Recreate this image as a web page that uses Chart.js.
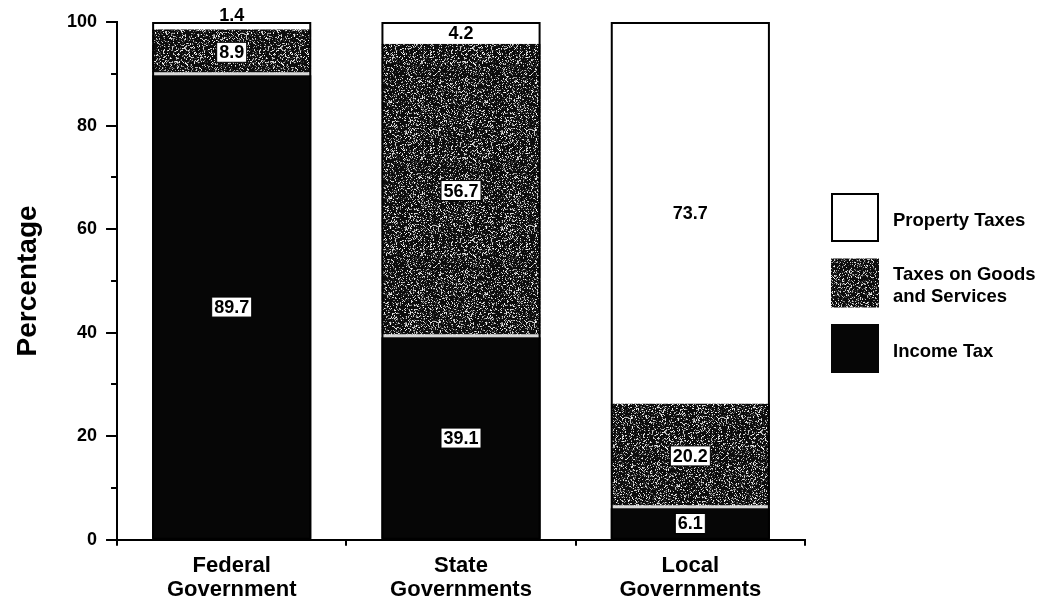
<!DOCTYPE html>
<html>
<head>
<meta charset="utf-8">
<script src="https://cdn.jsdelivr.net/npm/chart.js@4.4.1/dist/chart.umd.min.js"></script>
<style>
  html, body { margin: 0; padding: 0; background: #ffffff; }
  #wrap { width: 1048px; height: 600px; }
</style>
</head>
<body>
<div id="wrap"><canvas id="chart" width="1048" height="600"></canvas></div>
<script>
// Share of tax revenue by level of government (percent)
const categories = [['Federal', 'Government'], ['State', 'Governments'], ['Local', 'Governments']];
const incomeTax = [89.7, 39.1, 6.1];
const goodsAndServices = [8.9, 56.7, 20.2];
const propertyTaxes = [1.4, 4.2, 73.7];
const seriesNames = ['Income Tax', 'Taxes on Goods and Services', 'Property Taxes'];
const yMin = 0, yMax = 100, yStep = 20;
const yMinorTicks = [10, 30, 50, 70, 90];

const FONT = '"Liberation Sans", Arial, Helvetica, sans-serif';

// Halftone-like speckle fill for the goods & services band (deterministic hash noise)
function makeSpeckle() {
  const s = 96;
  const cv = document.createElement('canvas');
  cv.width = s; cv.height = s;
  const g = cv.getContext('2d');
  const img = g.createImageData(s, s);
  for (let y = 0; y < s; y++) {
    for (let x = 0; x < s; x++) {
      let h = Math.imul(x * 73856093 ^ y * 19349663, 0x5bd1e995);
      h ^= h >>> 13; h = Math.imul(h, 0x27d4eb2d); h ^= h >>> 15;
      const r = (h >>> 0) / 4294967296;
      let v = 12;
      if (r < 0.22) v = 120 + Math.floor((r / 0.22) * 135);
      else if (r < 0.32) v = 55;
      const k = (y * s + x) * 4;
      img.data[k] = img.data[k + 1] = img.data[k + 2] = v;
      img.data[k + 3] = 255;
    }
  }
  g.putImageData(img, 0, 0);
  return g.createPattern(cv, 'repeat');
}
const speckle = makeSpeckle();

// Outline each stacked column and write the value labels
const barLabels = {
  id: 'barLabels',
  afterDatasetsDraw(chart) {
    const ctx = chart.ctx;
    const first = chart.getDatasetMeta(0).data;
    const last = chart.getDatasetMeta(chart.data.datasets.length - 1).data;
    ctx.save();
    ctx.strokeStyle = '#000';
    ctx.lineWidth = 2;
    first.forEach((bar, i) => {
      const top = last[i].y, bottom = bar.base, w = bar.width;
      ctx.strokeRect(bar.x - w / 2 + 1, top + 1, w - 2, bottom - top - 1);
    });
    ctx.font = 'bold 18px ' + FONT;
    ctx.textAlign = 'center';
    chart.data.datasets.forEach((ds, di) => {
      chart.getDatasetMeta(di).data.forEach((bar, i) => {
        const txt = ds.data[i].toFixed(1);
        const top = Math.min(bar.y, bar.base), bottom = Math.max(bar.y, bar.base);
        ctx.fillStyle = '#000';
        if (bottom - top < 16) {
          ctx.textBaseline = 'alphabetic';
          ctx.fillText(txt, bar.x, top - 1);
          return;
        }
        const cy = (top + bottom) / 2;
        if (ds.boxedLabel) {
          const w = ctx.measureText(txt).width + 5;
          ctx.fillStyle = '#fff';
          ctx.fillRect(bar.x - w / 2, cy - 10, w, 20);
          ctx.lineWidth = 1;
          ctx.strokeRect(bar.x - w / 2, cy - 10, w, 20);
          ctx.fillStyle = '#000';
        }
        ctx.textBaseline = 'middle';
        ctx.fillText(txt, bar.x, cy + 1);
      });
    });
    ctx.restore();
  }
};

// Short minor ticks between the labelled y ticks
const minorTicks = {
  id: 'minorTicks',
  afterDraw(chart) {
    const ctx = chart.ctx, y = chart.scales.y, x0 = chart.chartArea.left;
    ctx.save();
    ctx.strokeStyle = '#000';
    ctx.lineWidth = 2;
    yMinorTicks.forEach(v => {
      const py = Math.round(y.getPixelForValue(v));
      ctx.beginPath();
      ctx.moveTo(x0 - 6, py);
      ctx.lineTo(x0, py);
      ctx.stroke();
    });
    ctx.restore();
  }
};

// Legend at the right: large swatches, top series first, labels wrapped
const sideLegend = {
  id: 'sideLegend',
  afterDraw(chart) {
    const ctx = chart.ctx;
    const bx = chart.chartArea.right + 26, bw = 48, bh = 49, step = 65.5;
    let by = 193;
    ctx.save();
    ctx.font = 'bold 18.5px ' + FONT;
    ctx.textAlign = 'left';
    ctx.textBaseline = 'middle';
    const list = chart.data.datasets.slice().reverse();
    list.forEach(ds => {
      ctx.fillStyle = ds.backgroundColor;
      ctx.fillRect(bx, by, bw, bh);
      if (ds.legendOutline) {
        ctx.strokeStyle = '#000';
        ctx.lineWidth = 2;
        ctx.strokeRect(bx + 1, by + 1, bw - 2, bh - 2);
      }
      // wrap label to lines of at most 150px
      const words = ds.label.split(' ');
      const lines = [];
      let cur = '';
      words.forEach(wd => {
        const test = cur ? cur + ' ' + wd : wd;
        if (ctx.measureText(test).width > 150 && cur) { lines.push(cur); cur = wd; }
        else cur = test;
      });
      lines.push(cur);
      const lh = 22.7;
      const cy = by + bh / 2 + 3;
      ctx.fillStyle = '#000';
      lines.forEach((ln, k) => {
        ctx.fillText(ln, bx + 62, cy + (k - (lines.length - 1) / 2) * lh);
      });
      by += step;
    });
    ctx.restore();
  }
};

new Chart(document.getElementById('chart'), {
  type: 'bar',
  data: {
    labels: categories,
    datasets: [
      {
        label: seriesNames[0],
        data: incomeTax,
        backgroundColor: '#060606',
        boxedLabel: true
      },
      {
        label: seriesNames[1],
        data: goodsAndServices,
        backgroundColor: speckle,
        borderColor: '#d8d8d8',
        borderWidth: { top: 0, left: 0, right: 0, bottom: 3 },
        borderSkipped: false,
        boxedLabel: true
      },
      {
        label: seriesNames[2],
        data: propertyTaxes,
        backgroundColor: '#ffffff',
        legendOutline: true,
        boxedLabel: false
      }
    ]
  },
  options: {
    responsive: false,
    animation: false,
    events: [],
    datasets: { bar: { categoryPercentage: 1, barPercentage: 0.694 } },
    layout: { padding: { left: 14, right: 243, top: 22, bottom: -10 } },
    plugins: { legend: { display: false }, tooltip: { enabled: false } },
    scales: {
      x: {
        stacked: true,
        grid: { drawOnChartArea: false, tickLength: 6, color: '#000', lineWidth: 2 },
        border: { color: '#000', width: 2 },
        ticks: {
          color: '#000',
          padding: 9,
          maxRotation: 0,
          font: { family: FONT, size: 22, weight: 'bold', lineHeight: 1.05 }
        }
      },
      y: {
        stacked: true,
        min: yMin,
        max: yMax,
        grid: { drawOnChartArea: false, tickLength: 11, color: '#000', lineWidth: 2 },
        border: { color: '#000', width: 2 },
        ticks: {
          stepSize: yStep,
          color: '#000',
          padding: 9,
          font: { family: FONT, size: 18, weight: 'bold' }
        },
        title: {
          display: true,
          text: 'Percentage',
          color: '#000',
          font: { family: FONT, size: 28, weight: 'bold', lineHeight: 1 },
          padding: { top: 0, bottom: 16 }
        }
      }
    }
  },
  plugins: [barLabels, minorTicks, sideLegend]
});
</script>
</body>
</html>
